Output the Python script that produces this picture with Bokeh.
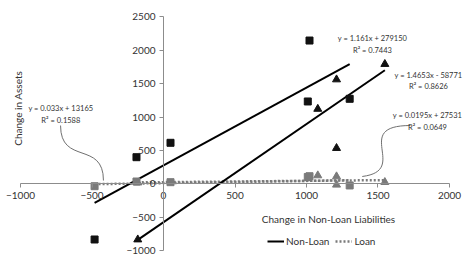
import numpy as np
from bokeh.plotting import figure
from bokeh.models import (LinearAxis, FixedTicker, Label, Legend, LegendItem,
                          Range1d)
from bokeh.embed import file_html
from bokeh.resources import INLINE

# ---- data ----
nl_sq_x = [-482, -189, 49, 1009, 1021, 1302]
nl_sq_y = [-829, 400, 615, 1232, 2142, 1272]
nl_tri_x = [-180, 1079, 1210, 1210, 1548]
nl_tri_y = [-830, 1120, 1560, 535, 1790]
loan_sq_x = [-482, -189, 49, 1009, 1021, 1302]
loan_sq_y = [-33, 37, 27, 105, 116, -22]
loan_tri_x = [-180, 1079, 1210, 1210, 1548]
loan_tri_y = [20, 127, 112, -12, 27]

# trend lines (slope, intercept) as drawn
trend_nl_sq = (1.161, 279.15)
trend_nl_tri = (1.4653, -570.0)
trend_loan_sq = (0.033, 13.165)
trend_loan_tri = (0.0195, 27.531)

trend_labels = [
    "y = 1.161x + 279150\nR² = 0.7443",
    "y = 1.4653x - 58771\nR² = 0.8626",
    "y = 0.0195x + 27531\nR² = 0.0649",
    "y = 0.033x + 13165\nR² = 0.1588",
]
x_ticks = [-1000, -500, 0, 500, 1000, 1500, 2000]
y_ticks = [-1000, -500, 0, 500, 1000, 1500, 2000, 2500]

FONT = "Lato"
GREY = "#7a7a7a"
TXT = "#333333"

p = figure(width=463, height=254, output_backend="svg", toolbar_location=None,
           x_axis_location=None, y_axis_location=None,
           x_range=Range1d(-1140, 2098), y_range=Range1d(-1053, 2740),
           min_border=0)
p.outline_line_color = None
p.xgrid.visible = False
p.ygrid.visible = False

for ax, side, ticks in ((LinearAxis(fixed_location=0), "below", x_ticks),
                        (LinearAxis(fixed_location=0), "left", y_ticks)):
    ax.ticker = FixedTicker(ticks=ticks)
    ax.bounds = (ticks[0], ticks[-1])
    ax.axis_line_color = "#8c8c8c"
    ax.major_tick_line_color = "#8c8c8c"
    ax.minor_tick_line_color = None
    ax.major_tick_out = 4
    ax.major_tick_in = 0
    ax.major_label_standoff = 4
    ax.major_label_text_font = FONT
    ax.major_label_text_font_size = "10px"
    ax.major_label_text_color = TXT
    p.add_layout(ax, side)


def trend(xs, coef):
    xx = np.array([min(xs), max(xs)], dtype=float)
    return xx, coef[0] * xx + coef[1]


# trend lines
lx, ly = trend(loan_sq_x, trend_loan_sq)
r_loan = p.line(lx, ly, line_color=GREY, line_width=2.5, line_dash="2 2")
lx, ly = trend(loan_tri_x, trend_loan_tri)
p.line(lx, ly, line_color=GREY, line_width=2.5, line_dash="2 2")
lx, ly = trend(nl_sq_x, trend_nl_sq)
r_nl = p.line(lx, ly, line_color="black", line_width=2)
lx, ly = trend(nl_tri_x, trend_nl_tri)
p.line(lx, ly, line_color="black", line_width=2)

# markers
p.scatter(loan_sq_x, loan_sq_y, marker="square", size=7, color=GREY)
p.scatter(loan_tri_x, loan_tri_y, marker="triangle", size=8, color=GREY)
p.scatter(nl_sq_x, nl_sq_y, marker="square", size=7, color="#111111")
p.scatter(nl_tri_x, nl_tri_y, marker="triangle", size=8, color="#111111")

# leader lines
p.bezier(x0=[-720, 1727], y0=[873, 873], x1=[-420, 1390], y1=[52, 112],
         cx0=[-720, 1308], cy0=[276, 873], cx1=[-420, 1727], cy1=[650, 202],
         line_color="#707070", line_width=1)

# trend equation labels
label_pos = [(1461, 2083), (1853, 1538), (1846, 933), (-718, 1038)]
for txt, (lx_, ly_) in zip(trend_labels, label_pos):
    p.add_layout(Label(x=lx_, y=ly_, text=txt, text_align="center",
                       text_baseline="middle", text_font=FONT,
                       text_font_size="7.5px", text_color=TXT,
                       text_line_height=1.3))

# axis titles
p.add_layout(Label(x=1154, y=-530, text="Change in Non-Loan Liabilities",
                   text_align="center", text_baseline="middle", text_font=FONT,
                   text_font_size="10px", text_color=TXT))
p.add_layout(Label(x=-1021, y=1130, text="Change in Assets", angle=np.pi / 2,
                   text_align="center", text_baseline="middle", text_font=FONT,
                   text_font_size="10px", text_color=TXT))

legend = Legend(items=[LegendItem(label="Non-Loan", renderers=[r_nl]),
                       LegendItem(label="Loan", renderers=[r_loan])],
                orientation="horizontal", location=(267, 7),
                border_line_color=None, background_fill_alpha=0,
                padding=0, margin=0, spacing=6, label_standoff=2,
                glyph_width=17, glyph_height=10,
                label_text_font=FONT, label_text_font_size="10px",
                label_text_color=TXT, label_height=10)
p.add_layout(legend, "center")

open("out.html", "w").write(file_html(p, INLINE))
